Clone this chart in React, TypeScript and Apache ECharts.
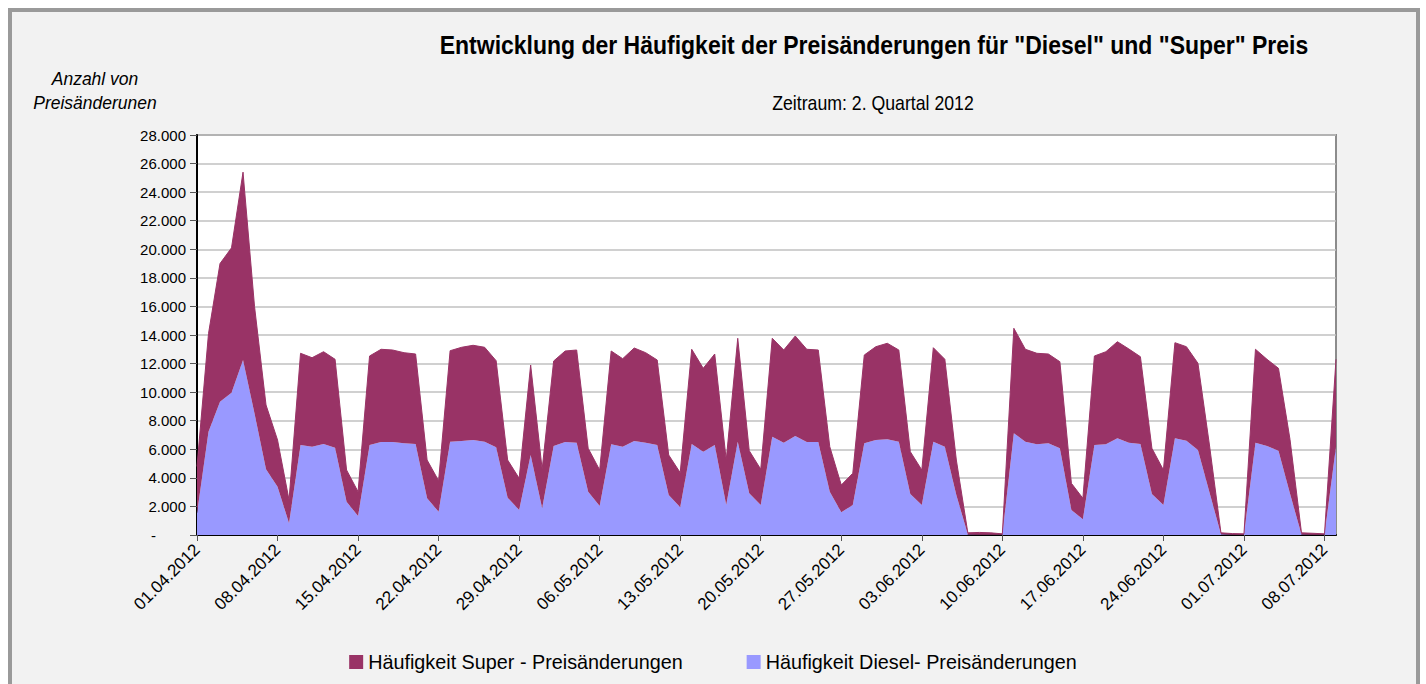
import React, { useEffect, useRef } from "react";
import * as echarts from "echarts";

const startDate = new Date(2012, 3, 1);
const dayCount = 100;
const categories: string[] = [];
for (let i = 0; i < dayCount; i++) {
  const d = new Date(startDate.getFullYear(), startDate.getMonth(), startDate.getDate() + i);
  const dd = String(d.getDate()).padStart(2, "0");
  const mm = String(d.getMonth() + 1).padStart(2, "0");
  categories.push(`${dd}.${mm}.${d.getFullYear()}`);
}

const dieselValues = [
  1500, 7230, 9330, 9960, 12250, 8500, 4600, 3380, 820, 6300,
  6180, 6370, 6110, 2330, 1330, 6300, 6510, 6510, 6420, 6370,
  2570, 1630, 6530, 6580, 6650, 6530, 6140, 2610, 1750, 5600,
  1870, 6230, 6510, 6460, 3030, 2030, 6350, 6180, 6580, 6460,
  6300, 2800, 1940, 6370, 5830, 6300, 2100, 6530, 2920, 2100,
  6880, 6460, 6930, 6510, 6510, 3030, 1590, 2100, 6420, 6650,
  6700, 6530, 2870, 2100, 6530, 6180, 2800, 30, 20, 20,
  10, 7120, 6530, 6350, 6420, 6070, 1750, 1100, 6300, 6350,
  6770, 6460, 6370, 2870, 2100, 6770, 6600, 5950, 3000, 50,
  20, 10, 6460, 6230, 5900, 2900, 30, 20, 10, 6200,
];

const superValues = [
  3300, 6870, 9670, 10140, 13150, 7500, 4500, 3270, 1630, 6420,
  6230, 6460, 6190, 2220, 1700, 6230, 6490, 6440, 6340, 6300,
  2680, 2170, 6370, 6560, 6630, 6610, 6060, 2640, 2220, 6300,
  2730, 5950, 6370, 6490, 3040, 2520, 6530, 6160, 6510, 6300,
  5950, 2800, 2420, 6630, 5840, 6370, 3150, 7240, 2980, 2500,
  6890, 6490, 7000, 6490, 6440, 3150, 1910, 2220, 6180, 6530,
  6720, 6420, 2960, 2450, 6580, 6120, 2450, 120, 160, 130,
  70, 7350, 6470, 6370, 6250, 6060, 1870, 1470, 6230, 6480,
  6760, 6560, 6110, 3200, 2450, 6690, 6580, 6070, 3300, 100,
  80, 70, 6540, 6070, 5770, 3800, 120, 100, 70, 6100,
];

const superName = "Häufigkeit Super - Preisänderungen";
const dieselName = "Häufigkeit Diesel- Preisänderungen";
const titleText = 'Entwicklung der Häufigkeit der Preisänderungen für "Diesel" und "Super" Preis';
const subtitleText = "Zeitraum: 2. Quartal 2012";
const yNameLines = ["Anzahl von", "Preisänderunen"];

const FONT = "'Liberation Sans', Arial, sans-serif";

function fmtThousands(v: number): string {
  const s = String(Math.round(v));
  return s.replace(/\B(?=(\d{3})+(?!\d))/g, ".");
}

export default function App() {
  const ref = useRef<HTMLDivElement>(null);
  useEffect(() => {
    if (!ref.current) return;
    const chart = echarts.init(ref.current, undefined, { renderer: "svg" });
    chart.setOption({
      animation: false,
      backgroundColor: "#ffffff",
      textStyle: { fontFamily: FONT },
      graphic: [
        {
          type: "rect",
          z: -10,
          silent: true,
          shape: { x: 10, y: 10, width: 1408, height: 700 },
          style: { fill: "#f2f2f2", stroke: "#9a9a9a", lineWidth: 4 },
        },
        {
          type: "text",
          x: 874,
          y: 45,
          scaleY: 1.1,
          style: {
            text: titleText,
            fontFamily: FONT,
            fontSize: 23,
            fontWeight: "bold",
            fill: "#000",
            textAlign: "center",
            textVerticalAlign: "middle",
          },
        },
        {
          type: "text",
          x: 873,
          y: 103,
          scaleY: 1.1,
          style: {
            text: subtitleText,
            fontFamily: FONT,
            fontSize: 17.7,
            fill: "#000",
            textAlign: "center",
            textVerticalAlign: "middle",
          },
        },
        {
          type: "text",
          x: 95,
          y: 78,
          scaleY: 1.1,
          style: {
            text: yNameLines[0],
            fontFamily: FONT,
            fontSize: 17.5,
            fontStyle: "italic",
            fill: "#000",
            textAlign: "center",
            textVerticalAlign: "middle",
          },
        },
        {
          type: "text",
          x: 95,
          y: 102,
          scaleY: 1.1,
          style: {
            text: yNameLines[1],
            fontFamily: FONT,
            fontSize: 17.5,
            fontStyle: "italic",
            fill: "#000",
            textAlign: "center",
            textVerticalAlign: "middle",
          },
        },
      ],
      legend: {
        data: [superName, dieselName],
        left: "center",
        top: 647,
        icon: "rect",
        itemWidth: 14,
        itemHeight: 14,
        itemGap: 64,
        textStyle: { fontFamily: FONT, fontSize: 19.8, color: "#000" },
      },
      grid: {
        left: 197,
        top: 135,
        width: 1139,
        height: 400,
        show: true,
        backgroundColor: "#ffffff",
        borderColor: "#8c8c8c",
        borderWidth: 2,
      },
      xAxis: {
        type: "category",
        data: categories,
        boundaryGap: false,
        axisLine: { show: true, lineStyle: { color: "#000", width: 2 } },
        axisTick: { show: true, interval: 6, length: 6, lineStyle: { color: "#555" } },
        axisLabel: {
          interval: 6,
          rotate: 45,
          fontFamily: FONT,
          fontSize: 17,
          color: "#000",
          margin: 12,
        },
        splitLine: { show: false },
      },
      yAxis: {
        type: "value",
        min: 0,
        max: 28000,
        interval: 2000,
        axisLine: { show: true, lineStyle: { color: "#000", width: 2 } },
        axisTick: { show: true, length: 7, lineStyle: { color: "#555" } },
        axisLabel: {
          fontFamily: FONT,
          fontSize: 15,
          color: "#000",
          margin: 11,
          formatter: (v: number) => (v === 0 ? "{dash|-}" : fmtThousands(v)),
          rich: {
            dash: { fontFamily: FONT, fontSize: 15, color: "#000", padding: [0, 30, 0, 0] },
          },
        },
        splitLine: { show: true, lineStyle: { color: "#c0c0c0", width: 1.5 } },
      },
      series: [
        {
          name: dieselName,
          type: "line",
          stack: "total",
          data: dieselValues,
          symbol: "none",
          lineStyle: { width: 0 },
          itemStyle: { color: "#9999ff" },
          areaStyle: { color: "#9999ff", opacity: 1 },
        },
        {
          name: superName,
          type: "line",
          stack: "total",
          data: superValues,
          symbol: "none",
          lineStyle: { width: 1, color: "#993366" },
          itemStyle: { color: "#993366" },
          areaStyle: { color: "#993366", opacity: 1 },
        },
      ],
    });
    return () => chart.dispose();
  }, []);
  return (
    <div
      ref={ref}
      style={{ position: "fixed", left: 0, top: 0, width: 1426, height: 684 }}
    />
  );
}
